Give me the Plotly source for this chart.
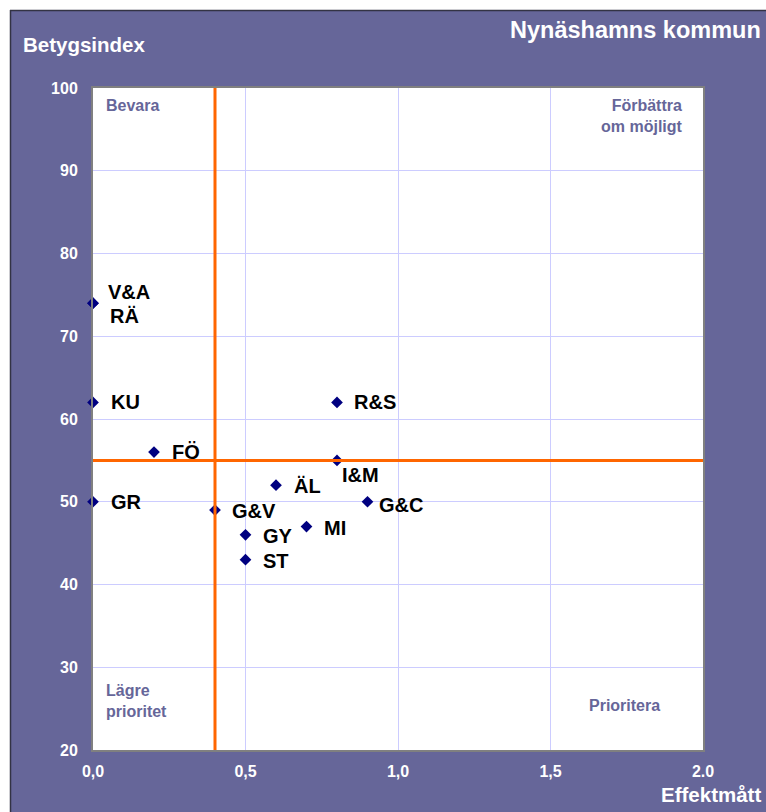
import plotly.graph_objects as go

labels = ["V&A", "RÄ", "KU", "GR", "FÖ", "R&S", "I&M", "ÄL", "G&V", "G&C", "MI", "GY", "ST"]
effekt = [0.0, 0.0, 0.0, 0.0, 0.2, 0.8, 0.8, 0.6, 0.4, 0.9, 0.7, 0.5, 0.5]
betyg = [74, 74, 62, 50, 56, 62, 55, 52, 49, 50, 47, 46, 43]
# label offsets (pixels) relative to the point
label_dx = [13, 15, 16, 16, 16, 15, 3, 16, 15, 9, 15, 15, 15]
label_dy = [11, -13, 0, 0, 0, 0, -15, -1, -1, -3, -1, -1, -1]

x_threshold = 0.4
y_threshold = 55

x_tickvals = [0, 0.5, 1.0, 1.5, 2.0]
x_ticktext = ["0,0", "0,5", "1,0", "1,5", "2.0"]
y_tickvals = [20, 30, 40, 50, 60, 70, 80, 90, 100]

PURPLE = "#666699"
FONT = "Arial, Liberation Sans, sans-serif"

W, H = 766, 812
L, R, T, B = 93, 63, 88, 62
pw, ph = W - L - R, H - T - B


def px2x(px):
    return (px - L) / pw


def py2y(py):
    return (H - B - py) / ph


fig = go.Figure()
fig.add_trace(go.Scatter(
    x=effekt, y=betyg, mode="markers",
    marker=dict(symbol="diamond", size=9, color="#000080"),
    cliponaxis=False, hoverinfo="skip", showlegend=False,
))

annotations = []
for lab, x, y, dx, dy in zip(labels, effekt, betyg, label_dx, label_dy):
    annotations.append(dict(
        x=x, y=y, xref="x", yref="y", text=lab, showarrow=False,
        xanchor="left", yanchor="middle", xshift=dx, yshift=dy,
        font=dict(family=FONT, size=20, color="black", weight="bold"),
    ))

quad = dict(family=FONT, size=16, color=PURPLE, weight="bold")
annotations += [
    dict(x=px2x(104), y=py2y(95), xref="paper", yref="paper", text="Bevara",
         showarrow=False, xanchor="left", yanchor="top", font=quad),
    dict(x=px2x(685), y=py2y(95), xref="paper", yref="paper", text="Förbättra<br>om möjligt",
         showarrow=False, xanchor="right", yanchor="top", align="right", font=quad),
    dict(x=px2x(104), y=py2y(680), xref="paper", yref="paper", text="Lägre<br>prioritet",
         showarrow=False, xanchor="left", yanchor="top", align="left", font=quad),
    dict(x=px2x(587), y=py2y(695), xref="paper", yref="paper", text="Prioritera",
         showarrow=False, xanchor="left", yanchor="top", font=quad),
    dict(x=px2x(21), y=py2y(45), xref="paper", yref="paper", text="Betygsindex",
         showarrow=False, xanchor="left", yanchor="middle",
         font=dict(family=FONT, size=20.5, color="white", weight="bold")),
    dict(x=px2x(763), y=py2y(30), xref="paper", yref="paper", text="Nynäshamns kommun",
         showarrow=False, xanchor="right", yanchor="middle",
         font=dict(family=FONT, size=23.5, color="white", weight="bold")),
    dict(x=px2x(763), y=py2y(794), xref="paper", yref="paper", text="Effektmått",
         showarrow=False, xanchor="right", yanchor="middle",
         font=dict(family=FONT, size=20.5, color="white", weight="bold")),
]

shapes = [
    # white strips outside the purple frame
    dict(type="rect", xref="paper", yref="paper", x0=px2x(-5), x1=px2x(W + 5),
         y0=py2y(10), y1=py2y(-5), fillcolor="white", line=dict(width=0), layer="above"),
    dict(type="rect", xref="paper", yref="paper", x0=px2x(-5), x1=px2x(10),
         y0=py2y(H + 5), y1=py2y(-5), fillcolor="white", line=dict(width=0), layer="above"),
    dict(type="line", xref="paper", yref="paper", x0=px2x(10), x1=px2x(W + 5),
         y0=py2y(10.5), y1=py2y(10.5), line=dict(color="#333344", width=1.5), layer="above"),
    dict(type="line", xref="paper", yref="paper", x0=px2x(10.5), x1=px2x(10.5),
         y0=py2y(10), y1=py2y(H + 5), line=dict(color="#333344", width=1.5), layer="above"),
    # thresholds
    dict(type="line", xref="x", yref="paper", x0=x_threshold, x1=x_threshold, y0=0, y1=1,
         line=dict(color="#FF6600", width=3), layer="above"),
    dict(type="line", xref="paper", yref="y", x0=0, x1=1, y0=y_threshold, y1=y_threshold,
         line=dict(color="#FF6600", width=3), layer="above"),
]

fig.update_layout(
    width=W, height=H, autosize=False,
    margin=dict(l=L, r=R, t=T, b=B, pad=0),
    paper_bgcolor=PURPLE, plot_bgcolor="white",
    font=dict(family=FONT),
    annotations=annotations, shapes=shapes,
    xaxis=dict(range=[0, 2], tickvals=x_tickvals, ticktext=x_ticktext,
               showgrid=True, gridcolor="#CCCCFF", gridwidth=1, zeroline=False,
               showline=True, linecolor="#808080", linewidth=2, mirror=True,
               ticks="", ticklabelstandoff=6,
               tickfont=dict(family=FONT, size=16, color="white", weight="bold")),
    yaxis=dict(range=[20, 100], tickvals=y_tickvals,
               showgrid=True, gridcolor="#CCCCFF", gridwidth=1, zeroline=False,
               showline=True, linecolor="#808080", linewidth=2, mirror=True,
               ticks="", ticklabelstandoff=10,
               tickfont=dict(family=FONT, size=16, color="white", weight="bold")),
)

fig.write_html("out.html", config={"displayModeBar": False},
               post_script="document.body.style.margin='0';")
